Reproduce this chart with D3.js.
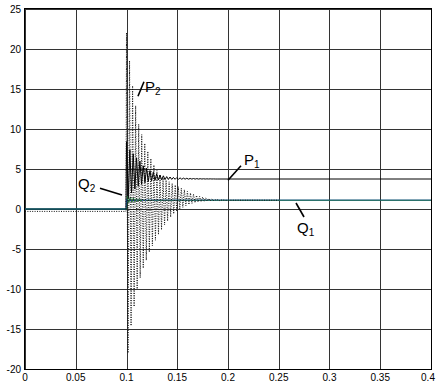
<!DOCTYPE html>
<html>
<head>
<meta charset="utf-8">
<script src="https://cdn.jsdelivr.net/npm/d3@7"></script>
<style>
  html, body { margin: 0; padding: 0; background: #fff; }
  svg { display: block; font-family: "Liberation Sans", Arial, sans-serif; }
</style>
</head>
<body>
<svg id="chart" width="436" height="383"></svg>
<script>
// axis ticks
const xTicks = [0, 0.05, 0.1, 0.15, 0.2, 0.25, 0.3, 0.35, 0.4];
const xTickLabels = ['0', '0.05', '0.1', '0.15', '0.2', '0.25', '0.3', '0.35', '0.4'];
const yTicks = [-20, -15, -10, -5, 0, 5, 10, 15, 20, 25];

// P1 (solid): [t, value]
const p1Data = [
  [0, 0], [0.0995, 0],
  [0.1000, 8.4], [0.10165, 1.3],
  [0.1033, 7.4], [0.10495, 2.0],
  [0.1066, 6.9], [0.10825, 2.5],
  [0.1099, 6.4], [0.11155, 2.85],
  [0.1132, 6.0], [0.11485, 3.1],
  [0.1165, 5.4], [0.11815, 3.3],
  [0.1198, 5.1], [0.12145, 3.42],
  [0.1231, 4.8], [0.12475, 3.52],
  [0.1264, 4.6], [0.12805, 3.58],
  [0.1297, 4.4], [0.13135, 3.62],
  [0.1330, 4.25], [0.13465, 3.65],
  [0.1363, 4.15], [0.13795, 3.67],
  [0.1396, 4.05], [0.14125, 3.69],
  [0.1429, 4.0], [0.14455, 3.7],
  [0.1462, 3.95], [0.14785, 3.71],
  [0.1495, 3.92], [0.15115, 3.72],
  [0.1528, 3.89], [0.15445, 3.72],
  [0.1561, 3.86], [0.15775, 3.73],
  [0.1594, 3.84], [0.16105, 3.73],
  [0.1627, 3.82], [0.16435, 3.74],
  [0.1660, 3.81], [0.16765, 3.74],
  [0.1693, 3.80], [0.17095, 3.74],
  [0.1726, 3.79], [0.17425, 3.745],
  [0.1759, 3.78], [0.17755, 3.745],
  [0.1792, 3.77], [0.18085, 3.75],
  [0.1825, 3.77], [0.18415, 3.75],
  [0.1858, 3.76], [0.18745, 3.75],
  [0.19, 3.75], [0.4, 3.75]
];

// P2 (dotted)
const p2Data = [
  [0, -0.3], [0.0995, -0.3],
  [0.1000, 22.0], [0.1015, -18.0],
  [0.1030, 18.5], [0.1045, -14.6],
  [0.1060, 15.4], [0.1075, -12.2],
  [0.1090, 12.9], [0.1105, -10.0],
  [0.1120, 10.6], [0.1135, -8.6],
  [0.1150, 9.3], [0.1165, -7.4],
  [0.1180, 8.2], [0.1195, -6.4],
  [0.1210, 7.2], [0.1225, -5.4],
  [0.1240, 6.3], [0.1255, -4.6],
  [0.1270, 5.5], [0.1285, -3.9],
  [0.1300, 4.8], [0.1315, -3.2],
  [0.1330, 4.3], [0.1345, -2.6],
  [0.1360, 3.9], [0.1375, -2.0],
  [0.1390, 3.6], [0.1405, -1.5],
  [0.1420, 3.4], [0.1435, -1.0],
  [0.1450, 3.2], [0.1465, -0.6],
  [0.1480, 3.0], [0.1495, -0.3],
  [0.1510, 2.8], [0.1525, 0.0],
  [0.1540, 2.6], [0.1555, 0.2],
  [0.1570, 2.4], [0.1585, 0.4],
  [0.1600, 2.2], [0.1615, 0.55],
  [0.1630, 2.0], [0.1645, 0.68],
  [0.1660, 1.85], [0.1675, 0.78],
  [0.1690, 1.7], [0.1705, 0.86],
  [0.1720, 1.6], [0.1735, 0.92],
  [0.1750, 1.5], [0.1765, 0.97],
  [0.1780, 1.4], [0.1795, 1.0],
  [0.1810, 1.33], [0.1825, 1.02],
  [0.1840, 1.27], [0.1855, 1.04],
  [0.1870, 1.22], [0.1885, 1.05],
  [0.1900, 1.18], [0.1915, 1.06],
  [0.1930, 1.15], [0.1945, 1.07],
  [0.1960, 1.13], [0.1975, 1.08],
  [0.2000, 1.1], [0.2500, 1.1]
];

// Q1 (green)
const q1Data = [
  [0, 0], [0.1003, 0],
  [0.1008, 1.6], [0.1023, 0.8], [0.1038, 1.5], [0.1053, 0.85],
  [0.1068, 1.4], [0.1083, 0.9], [0.1098, 1.35], [0.1113, 0.95],
  [0.1128, 1.3], [0.1143, 0.98], [0.1158, 1.25], [0.1173, 1.0],
  [0.1188, 1.2], [0.1203, 1.02], [0.1218, 1.17], [0.1233, 1.04],
  [0.1248, 1.15], [0.1263, 1.06], [0.1278, 1.13], [0.1293, 1.07],
  [0.1308, 1.12], [0.1323, 1.08], [0.135, 1.1], [0.4, 1.1]
];

// Q2 (blue)
const q2Data = [
  [0, 0], [0.0998, 0],
  [0.1000, 1.2], [0.1015, 0.9], [0.1030, 1.2], [0.1045, 1.0],
  [0.108, 1.1], [0.4, 1.1]
];

// curve labels: text anchor and leader line, in data units
const labelNames = ['P', 'P', 'Q', 'Q'];
const labelSubs = ['2', '1', '1', '2'];
const labelAt = [[0.1182, 14.6], [0.2158, 5.5], [0.2680, -3.0], [0.0522, 2.5]];
const leaderFrom = [[0.1172, 15.9], [0.2128, 5.4], [0.2670, 0.75], [0.0739, 2.6]];
const leaderTo = [[0.1113, 14.1], [0.2000, 3.6], [0.2749, -1.0], [0.0956, 1.75]];

const svg = d3.select('#chart');
const margin = {left: 25, right: 5, top: 9, bottom: 14};
const width = 436 - margin.left - margin.right;
const height = 383 - margin.top - margin.bottom;

const x = d3.scaleLinear().domain([0, 0.4]).range([margin.left, margin.left + width]);
const y = d3.scaleLinear().domain([-20, 25]).range([margin.top + height, margin.top]);
const crisp = v => Math.round(v) + 0.5;

// grid
const grid = svg.append('g').attr('class', 'grid');
grid.selectAll('.gx').data(xTicks).enter().append('line')
  .attr('x1', d => crisp(x(d))).attr('x2', d => crisp(x(d)))
  .attr('y1', y(-20)).attr('y2', y(25))
  .attr('stroke', '#333').attr('stroke-width', 1);
grid.selectAll('.gy').data(yTicks).enter().append('line')
  .attr('y1', d => crisp(y(d))).attr('y2', d => crisp(y(d)))
  .attr('x1', x(0)).attr('x2', x(0.4))
  .attr('stroke', '#333').attr('stroke-width', 1);

// tick labels
svg.append('g').selectAll('text').data(yTicks).enter().append('text')
  .attr('x', x(0) - 4).attr('y', d => y(d)).attr('dy', '0.35em')
  .attr('text-anchor', 'end').attr('font-size', 10).attr('fill', '#000')
  .text(d => d);
svg.append('g').selectAll('text').data(xTicks).enter().append('text')
  .attr('x', (d, i) => i === xTicks.length - 1 ? x(d) - 3 : x(d))
  .attr('y', y(-20) + 12)
  .attr('text-anchor', 'middle').attr('font-size', 10).attr('fill', '#000')
  .text((d, i) => xTickLabels[i]);

// series
svg.append('clipPath').attr('id', 'plot-clip').append('rect')
  .attr('x', x(0)).attr('y', y(25)).attr('width', width).attr('height', height);
const plot = svg.append('g').attr('clip-path', 'url(#plot-clip)');
const line = d3.line().x(d => x(d[0])).y(d => y(d[1]));

plot.append('path').datum(p1Data).attr('d', line)
  .attr('fill', 'none').attr('stroke', '#000').attr('stroke-width', 1);
plot.append('path').datum(q2Data).attr('d', line)
  .attr('fill', 'none').attr('stroke', '#0022cc').attr('stroke-width', 1);
plot.append('path').datum(q1Data).attr('d', line)
  .attr('fill', 'none').attr('stroke', '#1d7a3a').attr('stroke-width', 1);
plot.append('path').datum(p2Data).attr('d', line)
  .attr('fill', 'none').attr('stroke', '#111').attr('stroke-width', 1)
  .attr('stroke-dasharray', '1,1.4');

// frame
svg.append('rect')
  .attr('x', crisp(x(0)) - 1).attr('y', crisp(y(25)) - 1)
  .attr('width', crisp(x(0.4)) - crisp(x(0)) + 1).attr('height', crisp(y(-20)) - crisp(y(25)) + 1)
  .attr('fill', 'none').attr('stroke', '#000').attr('stroke-width', 1);

// labels with leader lines
const ann = svg.append('g');
labelNames.forEach((name, i) => {
  ann.append('line')
    .attr('x1', x(leaderFrom[i][0])).attr('y1', y(leaderFrom[i][1]))
    .attr('x2', x(leaderTo[i][0])).attr('y2', y(leaderTo[i][1]))
    .attr('stroke', '#000').attr('stroke-width', 1.6);
  const t = ann.append('text')
    .attr('x', x(labelAt[i][0])).attr('y', y(labelAt[i][1]))
    .attr('font-size', 15).attr('fill', '#000');
  t.append('tspan').text(name);
  t.append('tspan').attr('font-size', 10).attr('dy', 3).text(labelSubs[i]);
});
</script>
</body>
</html>
